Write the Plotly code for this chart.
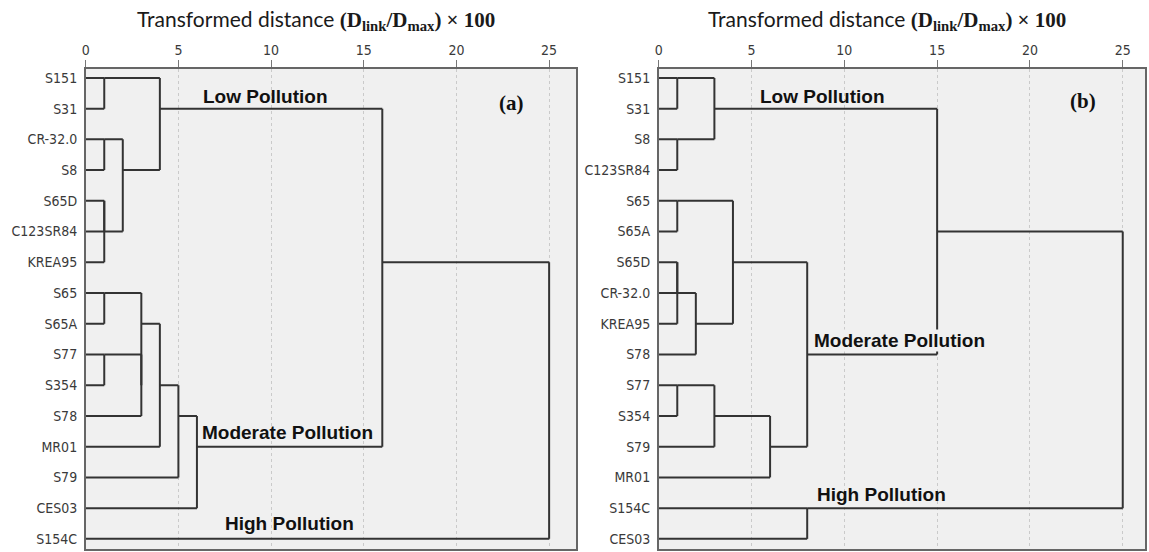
import plotly.graph_objects as go

# Leaf order (top to bottom) for each dendrogram
leaves_a = ["S151", "S31", "CR-32.0", "S8", "S65D", "C123SR84", "KREA95", "S65",
            "S65A", "S77", "S354", "S78", "MR01", "S79", "CES03", "S154C"]
leaves_b = ["S151", "S31", "S8", "C123SR84", "S65", "S65A", "S65D", "CR-32.0",
            "KREA95", "S78", "S77", "S354", "S79", "MR01", "S154C", "CES03"]

# Agglomeration steps: (member of cluster 1, member of cluster 2, rescaled distance)
merges_a = [
    ("S151", "S31", 1), ("CR-32.0", "S8", 1), ("S65D", "C123SR84", 1),
    ("S65D", "KREA95", 1), ("CR-32.0", "S65D", 2), ("S151", "CR-32.0", 4),
    ("S65", "S65A", 1), ("S77", "S354", 1), ("S77", "S78", 3), ("S65", "S77", 3),
    ("S65", "MR01", 4), ("S65", "S79", 5), ("S65", "CES03", 6),
    ("S151", "S65", 16), ("S151", "S154C", 25),
]
merges_b = [
    ("S151", "S31", 1), ("S8", "C123SR84", 1), ("S151", "S8", 3),
    ("S65", "S65A", 1), ("S65D", "CR-32.0", 1), ("S65D", "KREA95", 1),
    ("S65D", "S78", 2), ("S65", "S65D", 4), ("S77", "S354", 1), ("S77", "S79", 3),
    ("S77", "MR01", 6), ("S65", "S77", 8), ("S151", "S65", 15),
    ("S154C", "CES03", 8), ("S151", "S154C", 25),
]

x_ticks = [0, 5, 10, 15, 20, 25]
x_title = ('Transformed distance <span style="font-family:\'Liberation Serif\';font-weight:bold">'
           '(D<sub>link</sub>/D<sub>max</sub>) × 100</span>')

LINE = "#333333"
BG = "#f0f0f0"
W, H = 1149, 552


def dendro_segments(leaves, merges):
    """SPSS-style layout: each cluster leaves from the middle row of its two parts."""
    cid = {name: i for i, name in enumerate(leaves)}
    row = {i: i for i in range(len(leaves))}
    xpos = {i: 0.0 for i in range(len(leaves))}
    members = {i: {leaves[i]} for i in range(len(leaves))}
    xs, ys = [], []
    nxt = len(leaves)
    for a, b, h in merges:
        ca, cb = cid[a], cid[b]
        ra, rb = row[ca], row[cb]
        xs += [xpos[ca], h, None, xpos[cb], h, None, h, h, None]
        ys += [ra, ra, None, rb, rb, None, ra, rb, None]
        new = nxt
        nxt += 1
        row[new] = (ra + rb) // 2
        xpos[new] = h
        members[new] = members[ca] | members[cb]
        for m in members[new]:
            cid[m] = new
    return xs, ys


fig = go.Figure()
for k, (leaves, merges) in enumerate([(leaves_a, merges_a), (leaves_b, merges_b)]):
    xs, ys = dendro_segments(leaves, merges)
    fig.add_trace(go.Scatter(
        x=xs, y=ys, mode="lines", line=dict(color=LINE, width=2),
        xaxis="x" if k == 0 else "x2", yaxis="y" if k == 0 else "y2",
        hoverinfo="skip", showlegend=False,
    ))

ydom = [1 - 549 / H, 1 - 69 / H]
tick_font = dict(family="Liberation Sans Narrow, DejaVu Sans Condensed, sans-serif",
                 size=14, color="#3a3a3a")
common_x = dict(
    side="top", tickvals=x_ticks, ticks="outside", ticklen=7, tickwidth=1,
    tickcolor="#777777", showline=True, mirror=True, linecolor="#666666", linewidth=1.5,
    showgrid=True, gridcolor="#cacaca", griddash="dot", gridwidth=1, zeroline=False,
    tickfont=tick_font, fixedrange=True,
)
common_y = dict(
    range=[15.33, -0.29], tickvals=list(range(16)), ticks="", showline=True, mirror=True,
    linecolor="#666666", linewidth=1.5, showgrid=False, zeroline=False,
    tickfont=tick_font, ticklabelstandoff=4, fixedrange=True,
)

fig.update_layout(
    width=W, height=H, margin=dict(l=0, r=0, t=0, b=0),
    paper_bgcolor="white", plot_bgcolor=BG,
    xaxis=dict(common_x, domain=[82 / W, 574 / W], range=[0, 26.45], anchor="y"),
    yaxis=dict(common_y, domain=ydom, ticktext=leaves_a, anchor="x"),
    xaxis2=dict(common_x, domain=[657 / W, 1145 / W], range=[0, 26.2], anchor="y2"),
    yaxis2=dict(common_y, domain=ydom, ticktext=leaves_b, anchor="x2"),
)

title_font = dict(family="Lato, sans-serif", size=21, color="#1a1a1a")
for xc in (313, 886):
    fig.add_annotation(xref="paper", yref="paper", x=xc / W, y=1 - 20 / H,
                       text=x_title, showarrow=False, font=title_font,
                       xanchor="center", yanchor="middle")

label_font = dict(family="Liberation Sans, Arial, sans-serif", size=19, color="#111111")
panel_font = dict(family="Liberation Serif, serif", size=21, color="#111111")

# (text, x, y, axis suffix, background)
group_labels = [
    ("<b>Low Pollution</b>", 6.3, 0.62, "", None),
    ("<b>Moderate Pollution</b>", 6.2, 11.55, "", None),
    ("<b>High Pollution</b>", 7.45, 14.5, "", None),
    ("<b>Low Pollution</b>", 5.4, 0.62, "2", None),
    ("<b>Moderate Pollution</b>", 8.3, 8.53, "2", BG),
    ("<b>High Pollution</b>", 8.5, 13.57, "2", None),
]
for text, x, y, s, bg in group_labels:
    fig.add_annotation(xref="x" + s, yref="y" + s, x=x, y=y, text=text,
                       showarrow=False, font=label_font, xanchor="left",
                       yanchor="middle", bgcolor=bg, borderpad=0)

for text, x, y, s in [("<b>(a)</b>", 22.96, 0.8, ""), ("<b>(b)</b>", 22.85, 0.75, "2")]:
    fig.add_annotation(xref="x" + s, yref="y" + s, x=x, y=y, text=text,
                       showarrow=False, font=panel_font, xanchor="center",
                       yanchor="middle")

fig.write_html("out.html")
